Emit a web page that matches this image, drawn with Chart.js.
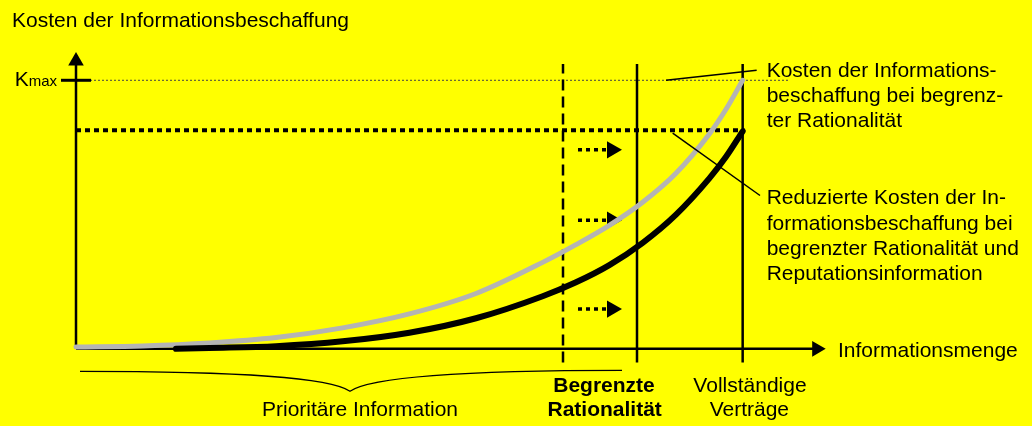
<!DOCTYPE html>
<html>
<head>
<meta charset="utf-8">
<script src="https://cdn.jsdelivr.net/npm/chart.js@4.4.1/dist/chart.umd.min.js"></script>
<style>
  html, body { margin: 0; padding: 0; background: #ffff00; }
  canvas { display: block; }
</style>
</head>
<body>
<canvas id="chart" width="1032" height="426"></canvas>
<script>
// Informationsmenge (0 = nichts, 100 = vollständige Verträge)
const menge = [0, 10, 20, 30, 40, 50, 60, 70, 75, 80, 85, 90, 95, 97.5, 100];
const kostenBegrenzt = [0.7, 1.1, 2.2, 4.2, 7.8, 13.0, 20.6, 32.2, 38.8, 46.0, 54.6, 65.4, 80, 89.2, 100];

const mengeReduziert = [15, 20, 30, 40, 50, 60, 70, 75, 80, 85, 90, 95, 97.5, 100];
const kostenReduziert = [0, 0.3, 1.0, 2.8, 6.0, 11.4, 19.6, 24.8, 31.2, 39.5, 50, 63.5, 71.5, 81];

const kMax = 100;
const kReduziert = 81.4;
const stufen = [73.05, 84.15, 100];          // Prioritär-Grenze, begrenzte Rationalität, vollständige Verträge
const pfeilHoehen = [74.1, 47.9, 14.8];

const BLACK = '#000000';
const GRAY = '#b4b4b4';
const FONT = '"Liberation Sans", Arial, sans-serif';

function seg(x1, y1, x2, y2) {
    return [{ x: x1, y: y1 }, { x: x2, y: y2 }];
}

const datasets = [];
// Kmax Hilfslinie
datasets.push({ data: seg(2.1, kMax, 106.8, kMax), borderColor: '#444', borderWidth: 1, borderDash: [2, 2] });
// reduzierte Kosten Linie (gepunktet)
datasets.push({ data: seg(0, kReduziert, 100.3, kReduziert), borderColor: BLACK, borderWidth: 4, borderDash: [5, 4] });
// senkrechte Linien
datasets.push({ data: seg(stufen[0], -5.1, stufen[0], 106.1), borderColor: BLACK, borderWidth: 2.5, borderDash: [11, 6] });
datasets.push({ data: seg(stufen[1], -5.1, stufen[1], 106.1), borderColor: BLACK, borderWidth: 2.5 });
datasets.push({ data: seg(stufen[2], -5.1, stufen[2], 106.1), borderColor: BLACK, borderWidth: 2.5 });
// Achsen mit Pfeilspitzen
datasets.push({ data: seg(0, 0, 0, 107.2), borderColor: BLACK, borderWidth: 2.5,
    pointRadius: [0, 9], pointStyle: 'triangle', pointRotation: 0, pointBackgroundColor: BLACK });
datasets.push({ data: seg(0, 0, 111.1, 0), borderColor: BLACK, borderWidth: 2.5,
    pointRadius: [0, 9], pointStyle: 'triangle', pointRotation: 90, pointBackgroundColor: BLACK });
// Verschiebungspfeile
pfeilHoehen.forEach(function (h) {
    datasets.push({ data: seg(75.3, h, 80.4, h), borderColor: BLACK, borderWidth: 3.5, borderDash: [4, 4],
        pointRadius: [0, 10], pointStyle: 'triangle', pointRotation: 90, pointBackgroundColor: BLACK });
});
// Kurven
datasets.push({
    data: menge.map((m, i) => ({ x: m, y: kostenBegrenzt[i] })),
    borderColor: GRAY, borderWidth: 5, cubicInterpolationMode: 'monotone', borderCapStyle: 'round'
});
datasets.push({
    data: mengeReduziert.map((m, i) => ({ x: m, y: kostenReduziert[i] })),
    borderColor: BLACK, borderWidth: 6, cubicInterpolationMode: 'monotone', borderCapStyle: 'round'
});
// Bezugslinien zu den Beschriftungen
datasets.push({ data: seg(88.5, 100, 102.1, 103.7), borderColor: BLACK, borderWidth: 1.5 });
datasets.push({ data: seg(89.5, 80.3, 102.6, 57.1), borderColor: BLACK, borderWidth: 1.5 });
// Kmax Markierung
datasets.push({ data: seg(-2.25, kMax, 2.25, kMax), borderColor: BLACK, borderWidth: 3 });

datasets.forEach(function (d, i) {
    d.order = datasets.length - i;
    d.clip = false;
    d.fill = false;
    if (d.pointRadius === undefined) d.pointRadius = 0;
    d.pointBorderWidth = 0;
});

const textPlugin = {
    id: 'texte',
    beforeDraw(chart) {
        const ctx = chart.ctx;
        ctx.save();
        ctx.fillStyle = '#ffff00';
        ctx.fillRect(0, 0, chart.width, chart.height);
        ctx.restore();
    },
    afterDatasetsDraw(chart) {
        const ctx = chart.ctx;
        const sx = chart.scales.x, sy = chart.scales.y;
        const px = v => sx.getPixelForValue(v);
        const py = v => sy.getPixelForValue(v);
        ctx.save();
        ctx.fillStyle = BLACK;
        ctx.textBaseline = 'alphabetic';

        function txt(s, u, v, align, bold) {
            ctx.font = (bold ? 'bold ' : '') + '21px ' + FONT;
            ctx.textAlign = align || 'left';
            ctx.fillText(s, px(u), py(v));
        }

        txt('Kosten der Informationsbeschaffung', -9.6, 119.8);
        txt('Informationsmenge', 114.3, -2.9);

        // Kmax
        ctx.font = '15px ' + FONT;
        const wSub = ctx.measureText('max').width;
        ctx.textAlign = 'right';
        ctx.fillText('max', px(-2.85), py(97.7));
        ctx.font = '21px ' + FONT;
        ctx.fillText('K', px(-2.85) - wSub, py(97.7));

        const block1 = ['Kosten der Informations-', 'beschaffung bei begrenz-', 'ter Rationalität'];
        const block2 = ['Reduzierte Kosten der In-', 'formationsbeschaffung bei', 'begrenzter Rationalität und', 'Reputationsinformation'];
        const x0 = px(103.6);
        ctx.font = '21px ' + FONT;
        ctx.textAlign = 'left';
        block1.forEach((s, i) => ctx.fillText(s, x0, py(101.4) + i * 25.3));
        block2.forEach((s, i) => ctx.fillText(s, x0, py(53.8) + i * 25.2));

        txt('Prioritäre Information', 42.6, -25.1, 'center');
        txt('Begrenzte', 79.2, -16.2, 'center', true);
        txt('Rationalität', 79.3, -25.1, 'center', true);
        txt('Vollständige', 101.1, -16.2, 'center');
        txt('Verträge', 101.0, -25.1, 'center');

        // geschweifte Klammer
        const l = px(0.6), r = px(81.9), m = px(41.1);
        const yt = py(-8.4), yb = py(-15.8);
        ctx.strokeStyle = BLACK;
        ctx.lineWidth = 1.2;
        ctx.beginPath();
        ctx.moveTo(l, yt);
        ctx.bezierCurveTo(l + (m - l) * 0.6, yt, m - 20, yt + 6, m, yb);
        ctx.bezierCurveTo(m + 20, yt + 6, m + (r - m) * 0.4, yt - 1, r, yt - 1);
        ctx.stroke();
        ctx.restore();
    }
};

new Chart(document.getElementById('chart'), {
    type: 'line',
    data: { datasets: datasets },
    options: {
        responsive: false,
        animation: false,
        events: [],
        layout: { padding: { left: 76, right: 156, top: 40, bottom: 6 } },
        scales: {
            x: { type: 'linear', min: 0, max: 120, display: false },
            y: { type: 'linear', min: -25, max: 115, display: false }
        },
        plugins: { legend: { display: false }, tooltip: { enabled: false } }
    },
    plugins: [textPlugin]
});
</script>
</body>
</html>
